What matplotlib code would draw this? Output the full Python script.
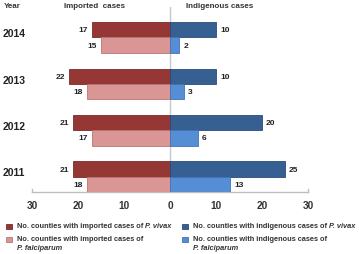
import matplotlib
matplotlib.use("Agg")
import matplotlib.pyplot as plt
from matplotlib.patches import Rectangle

plt.rcParams['font.family'] = ['Liberation Sans', 'DejaVu Sans']

years = ["2011", "2012", "2013", "2014"]
imp_vivax = [21, 21, 22, 17]
imp_falc = [18, 17, 18, 15]
ind_vivax = [25, 20, 10, 10]
ind_falc = [13, 6, 3, 2]
tick_vals = [-30, -20, -10, 0, 10, 20, 30]
tick_labels = ["30", "20", "10", "0", "10", "20", "30"]

c_iv = "#953735"
c_if = "#D99694"
c_dv = "#376092"
c_df = "#558ED5"
e_iv = "#7a2a28"
e_if = "#b97573"
e_dv = "#2a4c78"
e_df = "#3f73b5"

W, H = 359, 255
fig = plt.figure(figsize=(W / 100, H / 100), dpi=100)
ax = fig.add_axes([32 / W, 62 / H, 276 / W, 185 / H])
ax.set_xlim(-30, 30)
ax.set_ylim(-0.33, 3.656)
for s in ax.spines.values():
    s.set_visible(False)
ax.set_yticks([])
ax.set_xticks([])

bh = 0.33
y = list(range(len(years)))
yv = [i + bh / 2 for i in y]
yf = [i - bh / 2 for i in y]

ax.axvline(0, color="#c8c8c8", lw=1.0, zorder=0)
ax.barh(yv, [-v for v in imp_vivax], height=bh, color=c_iv, edgecolor=e_iv, lw=0.6, zorder=2)
ax.barh(yf, [-v for v in imp_falc], height=bh, color=c_if, edgecolor=e_if, lw=0.6, zorder=2)
ax.barh(yv, ind_vivax, height=bh, color=c_dv, edgecolor=e_dv, lw=0.6, zorder=2)
ax.barh(yf, ind_falc, height=bh, color=c_df, edgecolor=e_df, lw=0.6, zorder=2)

off = 0.9
for i in y:
    ax.text(-imp_vivax[i] - off, yv[i], str(imp_vivax[i]), ha="right", va="center",
            fontsize=6, fontweight="bold", color="#222222")
    ax.text(-imp_falc[i] - off, yf[i], str(imp_falc[i]), ha="right", va="center",
            fontsize=6, fontweight="bold", color="#222222")
    ax.text(ind_vivax[i] + off, yv[i], str(ind_vivax[i]), ha="left", va="center",
            fontsize=6, fontweight="bold", color="#222222")
    ax.text(ind_falc[i] + off, yf[i], str(ind_falc[i]), ha="left", va="center",
            fontsize=6, fontweight="bold", color="#222222")

# bottom axis line
ax.plot([-30, 30], [-0.33, -0.33], color="#bfbfbf", lw=1.0, clip_on=False, zorder=1)
for t in (-30, 30):
    ax.plot([t, t], [-0.33, -0.26], color="#bfbfbf", lw=1.0, clip_on=False)
for t, lab in zip(tick_vals, tick_labels):
    ax.text(t, -0.62, lab, ha="center", va="center", fontsize=7.3,
            fontweight="bold", color="#333333")

# year labels
for i, yr in enumerate(years):
    fy = 1 - (178 - i * 46.5 - 4.5) / H
    fig.text(3 / W, fy, yr, ha="left", va="center", fontsize=7.5,
             fontweight="bold", color="#222222")

fig.text(4 / W, 1 - 7 / H, "Year", ha="left", va="center", fontsize=5.8,
         fontweight="bold", color="#333333")
fig.text(94 / W, 1 - 7 / H, "Imported  cases", ha="center", va="center", fontsize=5.8,
         fontweight="bold", color="#333333")
fig.text(220 / W, 1 - 7 / H, "Indigenous cases", ha="center", va="center", fontsize=5.8,
         fontweight="bold", color="#333333")

renderer = fig.canvas.get_renderer()
LFS = 5.3

# legend
def leg(x, yc, fc, ec, first, italic_tail=None, second=None):
    fig.patches.append(Rectangle((x / W, 1 - (yc + 2.5) / H), 6 / W, 5 / H,
                                 transform=fig.transFigure, facecolor=fc,
                                 edgecolor=ec, lw=0.6))
    t = fig.text((x + 11) / W, 1 - yc / H, first, ha="left", va="center",
                 fontsize=LFS, fontweight="bold", color="#333333")
    if italic_tail:
        bb = t.get_window_extent(renderer)
        fig.text(bb.x1 / W, 1 - yc / H, italic_tail, ha="left", va="center",
                 fontsize=LFS, fontweight="bold", fontstyle="italic", color="#333333")
    if second:
        fig.text((x + 11) / W, 1 - (yc + 8.5) / H, second, ha="left", va="center",
                 fontsize=LFS, fontweight="bold", fontstyle="italic", color="#333333")

leg(6, 227, c_iv, e_iv, "No. counties with imported cases of ", "P. vivax")
leg(6, 240, c_if, e_if, "No. counties with imported cases of", second="P. falciparum")
leg(182, 227, c_dv, e_dv, "No. counties with indigenous cases of ", "P. vivax")
leg(182, 240, c_df, e_df, "No. counties with indigenous cases of", second="P. falciparum")

fig.savefig("out.png", dpi=100)
